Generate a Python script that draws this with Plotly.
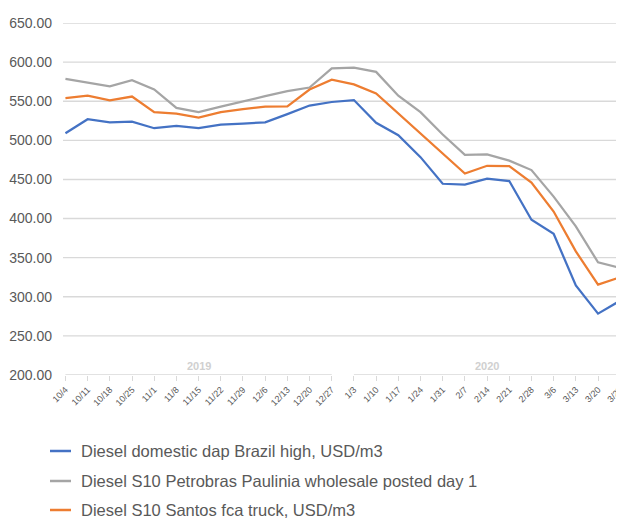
import plotly.graph_objects as go

dates_2019 = ["10/4", "10/11", "10/18", "10/25", "11/1", "11/8", "11/15",
              "11/22", "11/29", "12/6", "12/13", "12/20", "12/27"]
dates_2020 = ["1/3", "1/10", "1/17", "1/24", "1/31", "2/7", "2/14",
              "2/21", "2/28", "3/6", "3/13", "3/20", "3/27"]
years = ["2019", "2020"]

blue_vals = [509, 527, 523, 524, 515.5, 518.5, 515.5, 520, 521.5, 523, 533.5, 544.5, 549,
             551.5, 522.5, 506.5, 478.5, 444.5, 443.5, 451, 448, 398.5, 380.5, 314.5, 278.5, 295]
gray_vals = [578.5, 574, 569, 577, 565, 541.5, 536, 543, 550, 556.5, 563, 567.5, 592,
             593, 587.5, 557, 536, 507.5, 481.5, 482, 474, 462, 428, 390, 344, 337]
orange_vals = [554, 557, 551, 556, 536, 534, 529, 536, 540, 543, 543.5, 565, 577.5,
               571.5, 560, 534.5, 509, 483, 457.5, 467.5, 467, 446, 409, 358, 315.5, 325]

series_names = ["Diesel domestic dap Brazil high, USD/m3",
                "Diesel S10 Petrobras Paulinia wholesale posted day 1",
                "Diesel S10 Santos fca truck, USD/m3"]
series_colors = ["#4472C4", "#A5A5A5", "#ED7D31"]

y_ticks = [200, 250, 300, 350, 400, 450, 500, 550, 600, 650]

labels = dates_2019 + dates_2020
xs = list(range(len(labels)))

FONT = "Liberation Sans"
TXT = "#595959"
GRID = "#d9d9d9"

# page body has an 8px margin; the figure is sized to fill the rest of the window
OFF = 8
W, H = 624 - OFF, 518 - OFF
ML, MR, MT = 63 - OFF, 0, 23 - OFF
PH = 352
MB = H - MT - PH
PW = W - ML - MR


def px_x(p):
    return (p - OFF - ML) / PW


def px_y(p):
    return (H - MB - (p - OFF)) / PH


fig = go.Figure()
for name, vals, col in zip(series_names, [blue_vals, gray_vals, orange_vals], series_colors):
    fig.add_trace(go.Scatter(x=xs, y=vals, mode="lines", name=name,
                             line=dict(color=col, width=2.25), showlegend=False))

shapes = []
for v in y_ticks[1:]:
    shapes.append(dict(type="line", xref="paper", x0=0, x1=1, yref="y", y0=v, y1=v,
                       line=dict(color=GRID, width=1.4), layer="below"))
n19 = len(dates_2019)
shapes.append(dict(type="line", xref="x", x0=0, x1=n19 - 1, yref="y", y0=200, y1=200,
                   line=dict(color=GRID, width=1.4), layer="below"))
shapes.append(dict(type="line", xref="x", x0=n19, x1=len(labels) - 1, yref="y", y0=200, y1=200,
                   line=dict(color=GRID, width=1.4), layer="below"))

annotations = [
    dict(x=(n19 - 1) / 2, y=211, xref="x", yref="y", text="<b>%s</b>" % years[0], showarrow=False,
         font=dict(family=FONT, size=11, color="#d0d0d0")),
    dict(x=(n19 + len(labels) - 1) / 2, y=211, xref="x", yref="y", text="<b>%s</b>" % years[1],
         showarrow=False, font=dict(family=FONT, size=11, color="#d0d0d0")),
]

# legend rows (drawn below the plot)
row_y = [451, 481, 510]
for name, col, ry in zip(series_names, series_colors, row_y):
    shapes.append(dict(type="line", xref="paper", yref="paper", x0=px_x(50), x1=px_x(71),
                       y0=px_y(ry), y1=px_y(ry), line=dict(color=col, width=2.5)))
    annotations.append(dict(xref="paper", yref="paper", x=px_x(79), y=px_y(ry),
                            xanchor="left", yanchor="middle", text=name, showarrow=False,
                            font=dict(family=FONT, size=16.5, color=TXT)))

fig.update_layout(
    width=W, height=H,
    margin=dict(l=ML, r=MR, t=MT, b=MB),
    paper_bgcolor="white", plot_bgcolor="white",
    font=dict(family=FONT, color=TXT),
    shapes=shapes, annotations=annotations,
    xaxis=dict(range=[-0.11, len(labels) - 1 + 0.17], tickmode="array", tickvals=xs, ticktext=labels,
               tickangle=-45, tickfont=dict(size=9, color=TXT), ticks="outside", ticklen=5,
               tickcolor=GRID, showgrid=False, zeroline=False, showline=False, automargin=False,
               ticklabeloverflow="allow"),
    yaxis=dict(range=[200, 650], tickmode="array", tickvals=y_ticks, tickformat=".2f",
               tickfont=dict(size=14, color=TXT), showgrid=False, zeroline=False,
               showline=False, ticks="", ticklabelstandoff=10, automargin=False),
    showlegend=False,
)

fig.write_html("out.html")
